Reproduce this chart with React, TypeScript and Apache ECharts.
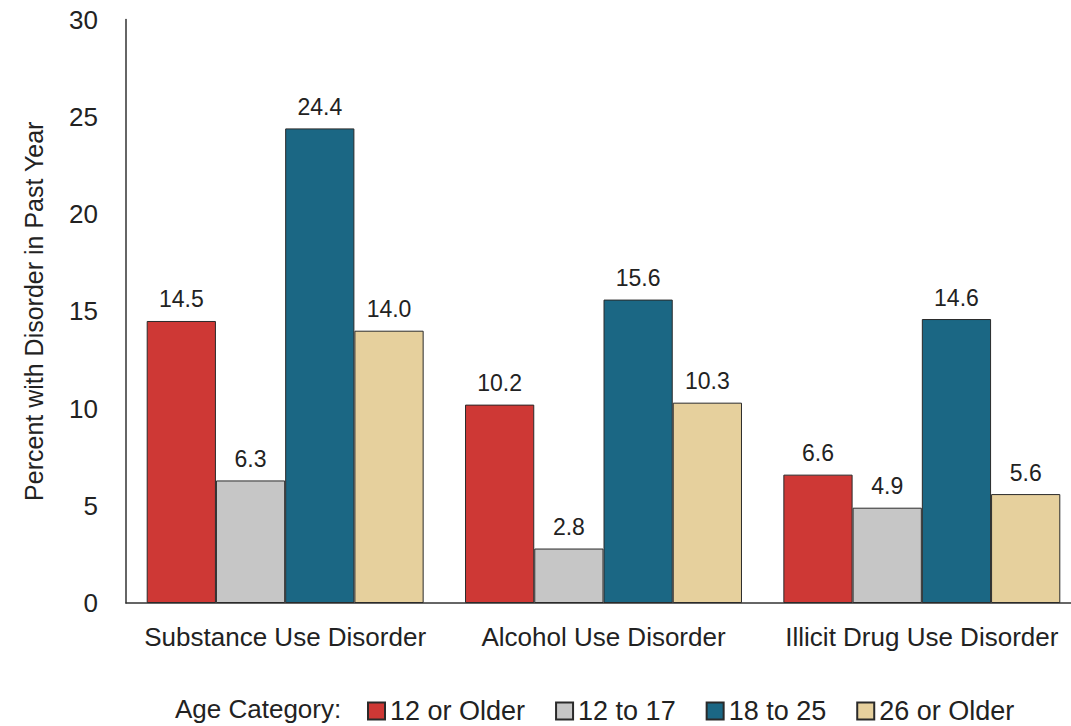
import React, { useEffect, useRef } from "react";
import * as echarts from "echarts";

const categories = ["Substance Use Disorder", "Alcohol Use Disorder", "Illicit Drug Use Disorder"];
const seriesNames = ["12 or Older", "12 to 17", "18 to 25", "26 or Older"];
const olderAll = [14.5, 10.2, 6.6];
const age12to17 = [6.3, 2.8, 4.9];
const age18to25 = [24.4, 15.6, 14.6];
const older26 = [14.0, 10.3, 5.6];
const colors = ["#CE3835", "#C6C6C6", "#1B6784", "#E6D09D"];

const FONT = "'Liberation Sans', Arial, Helvetica, sans-serif";

export default function App() {
  const ref = useRef<HTMLDivElement>(null);
  useEffect(() => {
    if (!ref.current) return;
    const chart = echarts.init(ref.current, null, { renderer: "svg" });
    const data = [olderAll, age12to17, age18to25, older26];
    chart.setOption({
      animation: false,
      backgroundColor: "#ffffff",
      grid: { left: 126, top: 19.5, width: 955, height: 583.5, containLabel: false },
      legend: {
        data: seriesNames,
        left: 367,
        top: 697,
        itemWidth: 17,
        itemHeight: 17,
        itemGap: 30,
        icon: "rect",
        padding: 0,
        textStyle: { fontFamily: FONT, fontSize: 27, color: "#222", lineHeight: 28, padding: [0, 0, 0, 0] },
      },
      graphic: [
        {
          type: "text",
          left: 175,
          top: 696,
          style: { text: "Age Category:", fontFamily: FONT, fontSize: 26, fill: "#222" },
        },
      ],
      xAxis: {
        type: "category",
        data: categories,
        axisLine: { lineStyle: { color: "#333", width: 1.5 } },
        axisTick: { show: false },
        axisLabel: { fontFamily: FONT, fontSize: 26, color: "#222", margin: 21, interval: 0 },
      },
      yAxis: {
        type: "value",
        min: 0,
        max: 30,
        interval: 5,
        name: "Percent with Disorder in Past Year",
        nameLocation: "middle",
        nameGap: 80,
        nameTextStyle: { fontFamily: FONT, fontSize: 25, color: "#222" },
        axisLine: { show: true, lineStyle: { color: "#333", width: 1.5 } },
        axisTick: { show: false },
        splitLine: { show: false },
        axisLabel: { fontFamily: FONT, fontSize: 26, color: "#222", margin: 28 },
      },
      series: seriesNames.map((name, i) => ({
        name,
        type: "bar",
        data: data[i],
        barGap: "0%",
        barCategoryGap: "13%",
        itemStyle: { color: colors[i], borderColor: "#2a2a2a", borderWidth: 1 },
        label: {
          show: true,
          position: "top",
          distance: 10,
          formatter: (p: any) => p.value.toFixed(1),
          fontFamily: FONT,
          fontSize: 23,
          color: "#222",
        },
      })),
    });
    return () => chart.dispose();
  }, []);
  return (
    <div style={{ position: "fixed", left: 0, top: 0, width: 1071, height: 726, overflow: "hidden", background: "#fff" }}>
      <div ref={ref} style={{ width: 1095, height: 726 }} />
    </div>
  );
}
